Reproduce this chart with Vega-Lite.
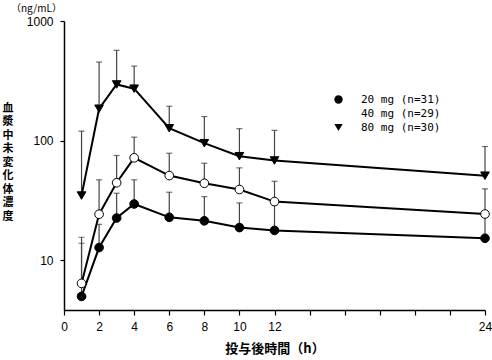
{
  "$schema": "https://vega.github.io/schema/vega-lite/v6.json",
  "autosize": "none",
  "width": 421,
  "height": 289,
  "padding": {"left": 64, "top": 21, "right": 7, "bottom": 50},
  "background": "white",
  "title": {"text": "（ng/mL）", "anchor": "start", "frame": "group", "dx": -53, "offset": 1, "font": "Noto Sans CJK JP", "fontSize": 10, "fontWeight": "normal", "color": "black"},
  "config": {
    "view": {"stroke": null},
    "axis": {"grid": false, "domainColor": "black", "tickColor": "black", "labelColor": "black", "titleColor": "black", "labelFont": "Liberation Sans", "labelFontSize": 12, "domainWidth": 1.5, "tickWidth": 1.2}
  },
  "data": {"values": [
    {"dose": "20 mg (n=31)", "t": 1, "mean": 5.0, "upper": 13.9},
    {"dose": "20 mg (n=31)", "t": 2, "mean": 12.8, "upper": 20},
    {"dose": "20 mg (n=31)", "t": 3, "mean": 22.6, "upper": 36.4},
    {"dose": "20 mg (n=31)", "t": 4, "mean": 29.6, "upper": 47.1},
    {"dose": "20 mg (n=31)", "t": 6, "mean": 22.9, "upper": 37.1},
    {"dose": "20 mg (n=31)", "t": 8, "mean": 21.4, "upper": 34.1},
    {"dose": "20 mg (n=31)", "t": 10, "mean": 18.8, "upper": 30.2},
    {"dose": "20 mg (n=31)", "t": 12, "mean": 17.8, "upper": 29},
    {"dose": "20 mg (n=31)", "t": 24, "mean": 15.3, "upper": 23.5},
    {"dose": "40 mg (n=29)", "t": 1, "mean": 6.42, "upper": 15.6},
    {"dose": "40 mg (n=29)", "t": 2, "mean": 24.3, "upper": 47.1},
    {"dose": "40 mg (n=29)", "t": 3, "mean": 44.5, "upper": 75.2},
    {"dose": "40 mg (n=29)", "t": 4, "mean": 71.9, "upper": 107},
    {"dose": "40 mg (n=29)", "t": 6, "mean": 51.1, "upper": 78.6},
    {"dose": "40 mg (n=29)", "t": 8, "mean": 44.1, "upper": 64.8},
    {"dose": "40 mg (n=29)", "t": 10, "mean": 39.1, "upper": 59.3},
    {"dose": "40 mg (n=29)", "t": 12, "mean": 31.0, "upper": 45.8},
    {"dose": "40 mg (n=29)", "t": 24, "mean": 24.4, "upper": 39.6},
    {"dose": "80 mg (n=30)", "t": 1, "mean": 34.8, "upper": 120},
    {"dose": "80 mg (n=30)", "t": 2, "mean": 185, "upper": 454},
    {"dose": "80 mg (n=30)", "t": 3, "mean": 295, "upper": 569},
    {"dose": "80 mg (n=30)", "t": 4, "mean": 272, "upper": 420},
    {"dose": "80 mg (n=30)", "t": 6, "mean": 127, "upper": 194},
    {"dose": "80 mg (n=30)", "t": 8, "mean": 95.3, "upper": 159},
    {"dose": "80 mg (n=30)", "t": 10, "mean": 74.2, "upper": 126},
    {"dose": "80 mg (n=30)", "t": 12, "mean": 68.3, "upper": 122},
    {"dose": "80 mg (n=30)", "t": 24, "mean": 51, "upper": 89.4}
  ]},
  "encoding": {
    "x": {"field": "t", "type": "quantitative",
      "scale": {"domain": [0, 24], "nice": false},
      "axis": {"values": [0, 2, 4, 6, 8, 10, 12, 14, 16, 18, 20, 22, 24], "labelExpr": "datum.value <= 12 || datum.value == 24 ? datum.label : ''", "tickSize": 5, "labelPadding": 6, "title": "投与後時間（h）", "titleFont": "Noto Sans CJK JP", "titleFontSize": 13, "titleFontWeight": "bold", "titlePadding": 10, "labelFlush": false, "labelOverlap": false}},
    "y": {"field": "mean", "type": "quantitative",
      "scale": {"type": "log", "domain": [3.85, 1000], "nice": false},
      "axis": {"values": [10, 100, 1000], "format": "d", "tickSize": 4, "labelPadding": 7, "title": ["血", "漿", "中", "未", "変", "化", "体", "濃", "度"], "titleAngle": 0, "titleFont": "Noto Sans CJK JP", "titleFontSize": 11, "titleFontWeight": "bold", "titleLineHeight": 13.5, "titleX": -56.5, "titleY": 81, "titleAlign": "center", "titleBaseline": "top"}}
  },
  "layer": [
    {"mark": {"type": "rule", "color": "#444", "strokeWidth": 1.2},
     "encoding": {"y2": {"field": "upper"}}},
    {"mark": {"type": "tick", "orient": "horizontal", "color": "#333", "size": 6, "thickness": 1.2},
     "encoding": {"y": {"field": "upper", "type": "quantitative"}}},
    {"mark": {"type": "line", "color": "black", "strokeWidth": 2},
     "encoding": {"detail": {"field": "dose"}}},
    {"mark": {"type": "point", "filled": false, "stroke": "black", "strokeWidth": 1, "opacity": 1, "size": 75},
     "encoding": {
       "shape": {"field": "dose", "type": "nominal", "scale": {"range": ["circle", "circle", "triangle-down"]},
         "legend": {"title": null, "orient": "none", "legendX": 269, "legendY": 73, "padding": 0, "labelFont": "DejaVu Sans Mono", "labelFontSize": 11, "labelColor": "black", "labelOffset": 17, "rowPadding": 1, "symbolSize": 70, "symbolStrokeColor": "black", "symbolStrokeWidth": 1}},
       "fill": {"field": "dose", "type": "nominal", "scale": {"range": ["black", "white", "black"]},
         "legend": {"title": null, "orient": "none", "legendX": 269, "legendY": 73, "padding": 0, "labelFont": "DejaVu Sans Mono", "labelFontSize": 11, "labelColor": "black", "labelOffset": 17, "rowPadding": 1, "symbolSize": 70, "symbolStrokeColor": "black", "symbolStrokeWidth": 1}}
     }}
  ]
}
